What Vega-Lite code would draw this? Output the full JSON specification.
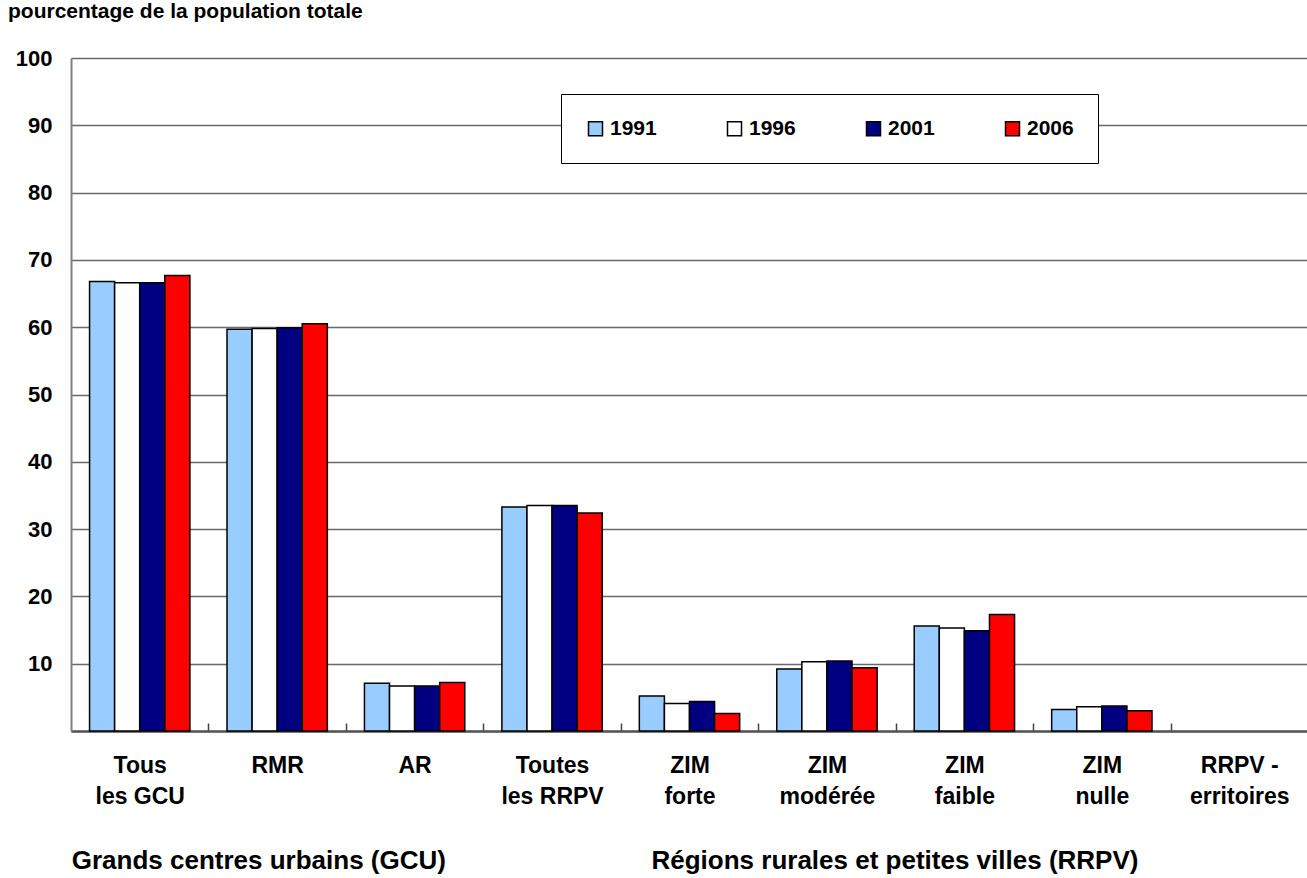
{
  "$schema": "https://vega.github.io/schema/vega-lite/v6.json",
  "width": 1237,
  "height": 673,
  "autosize": {"type": "none"},
  "padding": {"left": 71, "top": 58, "right": 0, "bottom": 147},
  "background": "white",
  "config": {"font": "Liberation Sans", "view": {"stroke": null}},
  "title": {
    "text": "pourcentage de la population totale",
    "anchor": "start",
    "frame": "group",
    "orient": "top",
    "baseline": "alphabetic",
    "offset": 8,
    "dx": -63,
    "fontSize": 21,
    "fontWeight": "bold",
    "color": "black"
  },
  "datasets": {
    "bars": [
      {"cat": "Tous|les GCU", "year": "1991", "value": 66.8},
      {"cat": "Tous|les GCU", "year": "1996", "value": 66.6},
      {"cat": "Tous|les GCU", "year": "2001", "value": 66.6},
      {"cat": "Tous|les GCU", "year": "2006", "value": 67.7},
      {"cat": "RMR", "year": "1991", "value": 59.7},
      {"cat": "RMR", "year": "1996", "value": 59.8},
      {"cat": "RMR", "year": "2001", "value": 59.9},
      {"cat": "RMR", "year": "2006", "value": 60.5},
      {"cat": "AR", "year": "1991", "value": 7.1},
      {"cat": "AR", "year": "1996", "value": 6.7},
      {"cat": "AR", "year": "2001", "value": 6.7},
      {"cat": "AR", "year": "2006", "value": 7.2},
      {"cat": "Toutes|les RRPV", "year": "1991", "value": 33.3},
      {"cat": "Toutes|les RRPV", "year": "1996", "value": 33.5},
      {"cat": "Toutes|les RRPV", "year": "2001", "value": 33.5},
      {"cat": "Toutes|les RRPV", "year": "2006", "value": 32.4},
      {"cat": "ZIM|forte", "year": "1991", "value": 5.2},
      {"cat": "ZIM|forte", "year": "1996", "value": 4.1},
      {"cat": "ZIM|forte", "year": "2001", "value": 4.4},
      {"cat": "ZIM|forte", "year": "2006", "value": 2.6},
      {"cat": "ZIM|modérée", "year": "1991", "value": 9.2},
      {"cat": "ZIM|modérée", "year": "1996", "value": 10.3},
      {"cat": "ZIM|modérée", "year": "2001", "value": 10.4},
      {"cat": "ZIM|modérée", "year": "2006", "value": 9.4},
      {"cat": "ZIM|faible", "year": "1991", "value": 15.6},
      {"cat": "ZIM|faible", "year": "1996", "value": 15.3},
      {"cat": "ZIM|faible", "year": "2001", "value": 14.9},
      {"cat": "ZIM|faible", "year": "2006", "value": 17.3},
      {"cat": "ZIM|nulle", "year": "1991", "value": 3.2},
      {"cat": "ZIM|nulle", "year": "1996", "value": 3.6},
      {"cat": "ZIM|nulle", "year": "2001", "value": 3.7},
      {"cat": "ZIM|nulle", "year": "2006", "value": 3.0}
    ],
    "groups": [
      {"cat": "Tous|les GCU", "label": "Grands centres urbains (GCU)", "base": 0},
      {"cat": "ZIM|forte", "label": "Régions rurales et petites villes (RRPV)", "base": 0}
    ]
  },
  "layer": [
    {
      "data": {"name": "bars"},
      "mark": {"type": "bar", "stroke": "black", "strokeWidth": 1.5},
      "encoding": {
        "x": {
          "field": "cat", "type": "nominal", "title": null,
          "scale": {
            "domain": ["Tous|les GCU", "RMR", "AR", "Toutes|les RRPV", "ZIM|forte", "ZIM|modérée", "ZIM|faible", "ZIM|nulle", "RRPV -|erritoires"],
            "paddingInner": 0.27, "paddingOuter": 0.135
          },
          "axis": {
            "labelExpr": "split(datum.label, '|')",
            "labelAngle": 0,
            "labelFontSize": 23,
            "labelFontWeight": "bold",
            "labelColor": "black",
            "labelBaseline": "top",
            "labelLineHeight": 31,
            "labelPadding": 31,
            "tickOffset": 68.7,
            "labelOffset": -68.7,
            "ticks": true,
            "tickSize": -8,
            "tickColor": "#444444",
            "tickWidth": 1.5,
            "domainColor": "#555555",
            "domainWidth": 2.5,
            "grid": false
          }
        },
        "xOffset": {"field": "year", "type": "nominal", "scale": {"paddingInner": 0}},
        "y": {
          "field": "value", "type": "quantitative",
          "scale": {"domain": [0, 100], "nice": false},
          "axis": {
            "values": [0, 10, 20, 30, 40, 50, 60, 70, 80, 90, 100],
            "labelExpr": "datum.value == 0 ? '' : datum.label",
            "labelFontSize": 22,
            "labelFontWeight": "bold",
            "labelColor": "black",
            "labelPadding": 19,
            "ticks": false,
            "domainColor": "#808080",
            "domainWidth": 2,
            "grid": true,
            "gridColor": "#6a6a6a",
            "gridWidth": 1.5,
            "title": null
          }
        },
        "color": {
          "field": "year", "type": "nominal",
          "scale": {"domain": ["1991", "1996", "2001", "2006"], "range": ["#99CCFF", "#FFFFFF", "#000080", "#FF0000"]},
          "legend": {
            "title": null,
            "orient": "none",
            "legendX": 490,
            "legendY": 36,
            "direction": "horizontal",
            "columns": 4,
            "symbolType": "square",
            "symbolSize": 196,
            "symbolStrokeColor": "black",
            "symbolStrokeWidth": 1.5,
            "labelFontSize": 21,
            "labelFontWeight": "bold",
            "labelColor": "black",
            "labelOffset": 4,
            "columnPadding": 67,
            "padding": 24,
            "strokeColor": "black",
            "fillColor": "white"
          }
        }
      }
    },
    {
      "data": {"name": "groups"},
      "transform": [{"filter": {"field": "cat", "equal": "Tous|les GCU"}}],
      "mark": {"type": "text", "align": "left", "baseline": "alphabetic", "fontSize": 26, "fontWeight": "bold", "color": "black", "dy": 138, "dx": -68},
      "encoding": {
        "x": {"field": "cat", "type": "nominal", "title": null},
        "y": {"field": "base", "type": "quantitative", "title": null},
        "text": {"field": "label"}
      }
    },
    {
      "data": {"name": "groups"},
      "transform": [{"filter": {"field": "cat", "equal": "ZIM|forte"}}],
      "mark": {"type": "text", "align": "left", "baseline": "alphabetic", "fontSize": 26, "fontWeight": "bold", "color": "black", "dy": 138, "dx": -38},
      "encoding": {
        "x": {"field": "cat", "type": "nominal", "title": null},
        "y": {"field": "base", "type": "quantitative", "title": null},
        "text": {"field": "label"}
      }
    }
  ]
}
